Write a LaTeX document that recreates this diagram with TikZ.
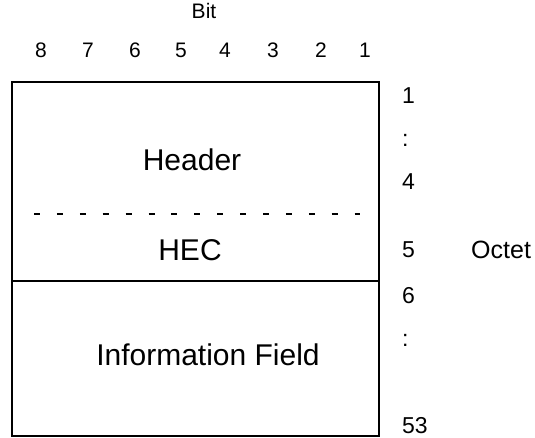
\documentclass[tikz,border=0pt]{standalone}
\usepackage{fontspec}
\setmainfont{Liberation Sans}
\begin{document}
\begin{tikzpicture}[x=1pt,y=-1pt,
  bitlbl/.style={font=\fontsize{21}{24}\selectfont, inner sep=0pt},
  octlbl/.style={font=\fontsize{23}{26}\selectfont, inner sep=0pt, anchor=west},
  fieldlbl/.style={font=\fontsize{30}{33}\selectfont, inner sep=0pt},
  frame/.style={line width=1.3pt},
  sep/.style={line width=1.1pt}]
\useasboundingbox (0,0) rectangle (535,438);
% outer box
\coordinate (tl) at (12,82);
\coordinate (br) at (379,436);
\draw[frame] (tl) rectangle (br);
% dividers
\coordinate (dl) at (34,214);
\coordinate (dr) at (360,214);
\draw[sep, dash pattern=on 6pt off 16.9pt] (dl) -- (dr);
\coordinate (sl) at (12,281);
\coordinate (sr) at (379,281);
\draw[sep] (sl) -- (sr);
% top labels
\node[bitlbl] (bit) at (204,11) {Bit};
\foreach \x/\b in {41/8,88/7,135/6,181/5,225/4,273/3,321/2,365/1}{
  \node[bitlbl] (b\b) at (\x,50) {\b};
}
% field labels
\node[fieldlbl] (header) at (192,160) {Header};
\node[fieldlbl] (hec) at (190,250) {HEC};
\node[fieldlbl] (info) at (208,355) {Information Field};
% octet labels
\node[octlbl] (o1) at (402,96) {1};
\node[octlbl] (od1) at (402,140) {:};
\node[octlbl] (o4) at (402,182) {4};
\node[octlbl] (o5) at (402,250) {5};
\node[octlbl] (o6) at (402,296) {6};
\node[octlbl] (od2) at (402,340) {:};
\node[octlbl] (o53) at (402,426) {53};
\node[octlbl, font=\fontsize{25}{28}\selectfont] (octet) at (471,250) {Octet};
\end{tikzpicture}
\end{document}
